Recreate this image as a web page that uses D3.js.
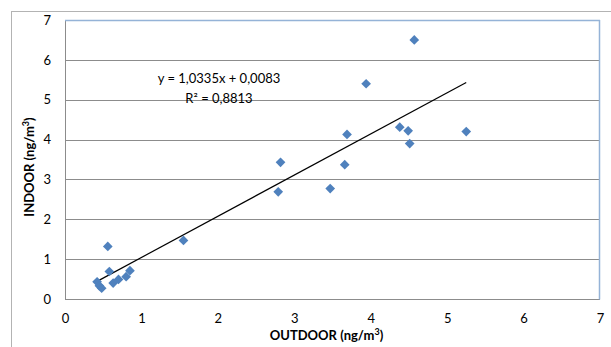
<!DOCTYPE html>
<html>
<head>
<meta charset="utf-8">
<script src="https://d3js.org/d3.v7.min.js"></script>
<style>
  body { margin: 0; background: #fff; }
  text { font-family: Lato, "Open Sans", sans-serif; fill: #000; }
</style>
</head>
<body>
<div id="chart"></div>
<script>
// data
const outdoor = [4.57, 3.94, 4.38, 4.49, 5.25, 4.51, 3.69, 3.66, 3.47, 2.82, 2.79, 1.55,
                 0.56, 0.58, 0.85, 0.80, 0.70, 0.63, 0.42, 0.45, 0.48];
const indoor  = [6.50, 5.40, 4.31, 4.22, 4.20, 3.90, 4.13, 3.37, 2.77, 3.43, 2.69, 1.47,
                 1.32, 0.69, 0.71, 0.56, 0.49, 0.40, 0.43, 0.33, 0.27];
const xTicks = [0, 1, 2, 3, 4, 5, 6, 7];
const yTicks = [0, 1, 2, 3, 4, 5, 6, 7];
const slope = 1.0335, intercept = 0.0083;
const eqLabel = "y = 1,0335x + 0,0083";
const r2Label = "R² = 0,8813";

let W = 611, H = 347;
let margin = { top: 20, right: 11, bottom: 48, left: 65 };
let width = W - margin.left - margin.right;
let height = H - margin.top - margin.bottom;

let svg = d3.select("#chart")
    .append("svg")
    .attr("width", W)
    .attr("height", H);

// outer chart border
svg.append("rect")
    .attr("x", 11.5).attr("y", 11.5)
    .attr("width", 620).attr("height", 360)
    .attr("fill", "none")
    .attr("stroke", "#b3b3b3");

let g = svg.append("g")
    .attr("transform", "translate(" + margin.left + "," + margin.top + ")");

const x = d3.scaleLinear().domain([0, 7]).range([0, width]);
const y = d3.scaleLinear().domain([0, 7]).range([height, 0]);

// gridlines
g.selectAll(".grid")
    .data(yTicks.filter(d => d > 0 && d < 7))
    .join("line")
    .attr("x1", 0).attr("x2", width)
    .attr("y1", d => Math.round(y(d)) + 0.5)
    .attr("y2", d => Math.round(y(d)) + 0.5)
    .attr("stroke", "#8c8c8c");

// plot area border: grey left/bottom, light blue top/right
g.append("line").attr("x1", 0.5).attr("x2", 0.5).attr("y1", 0).attr("y2", height + 0.5)
    .attr("stroke", "#8c8c8c");
g.append("line").attr("x1", 0).attr("x2", width).attr("y1", height + 0.5).attr("y2", height + 0.5)
    .attr("stroke", "#8c8c8c");
g.append("line").attr("x1", 0).attr("x2", width).attr("y1", 0.5).attr("y2", 0.5)
    .attr("stroke", "#95b3d7").attr("stroke-width", 1.5);
g.append("line").attr("x1", width - 0.5).attr("x2", width - 0.5).attr("y1", 0).attr("y2", height + 0.5)
    .attr("stroke", "#95b3d7").attr("stroke-width", 1.5);

// axes (labels only)
const xAxis = g.append("g")
    .attr("transform", "translate(0," + height + ")")
    .call(d3.axisBottom(x).tickValues(xTicks).tickFormat(d3.format("d")).tickSize(0).tickPadding(15));
const yAxis = g.append("g")
    .call(d3.axisLeft(y).tickValues(yTicks).tickFormat(d3.format("d")).tickSize(0).tickPadding(14));
[xAxis, yAxis].forEach(a => {
    a.select(".domain").remove();
    a.selectAll("text").style("font-size", "13px").style("font-family", "Lato, sans-serif");
});

// trendline from min x to max x
const xmin = d3.min(outdoor), xmax = d3.max(outdoor);
g.append("line")
    .attr("x1", x(xmin)).attr("y1", y(slope * xmin + intercept))
    .attr("x2", x(xmax)).attr("y2", y(slope * xmax + intercept))
    .attr("stroke", "#000")
    .attr("stroke-width", 1.2);

// diamond markers
const pts = outdoor.map((d, i) => ({ x: d, y: indoor[i] }));
g.selectAll(".pt")
    .data(pts)
    .join("path")
    .attr("d", d3.symbol().type(d3.symbolDiamond2).size(60))
    .attr("transform", d => "translate(" + x(d.x) + "," + y(d.y) + ")")
    .attr("fill", "#4f81bd");

// equation labels
g.append("text")
    .attr("x", 154).attr("y", 63)
    .attr("text-anchor", "middle")
    .style("font-size", "13px")
    .text(eqLabel);
g.append("text")
    .attr("x", 154).attr("y", 83)
    .attr("text-anchor", "middle")
    .style("font-size", "13px")
    .text(r2Label);

// axis titles with superscript 3
function unitTitle(sel, label) {
    sel.append("tspan").text(label + " (ng/m");
    sel.append("tspan").attr("dy", -5).style("font-size", "9px").text("3");
    sel.append("tspan").attr("dy", 5).text(")");
}

svg.append("text")
    .attr("x", margin.left + width / 2 - 6)
    .attr("y", 340)
    .attr("text-anchor", "middle")
    .style("font-size", "13px")
    .style("font-weight", "bold")
    .call(unitTitle, "OUTDOOR");

svg.append("text")
    .attr("transform", "translate(34,167) rotate(-90)")
    .attr("text-anchor", "middle")
    .style("font-size", "13px")
    .style("font-weight", "bold")
    .call(unitTitle, "INDOOR");
</script>
</body>
</html>
